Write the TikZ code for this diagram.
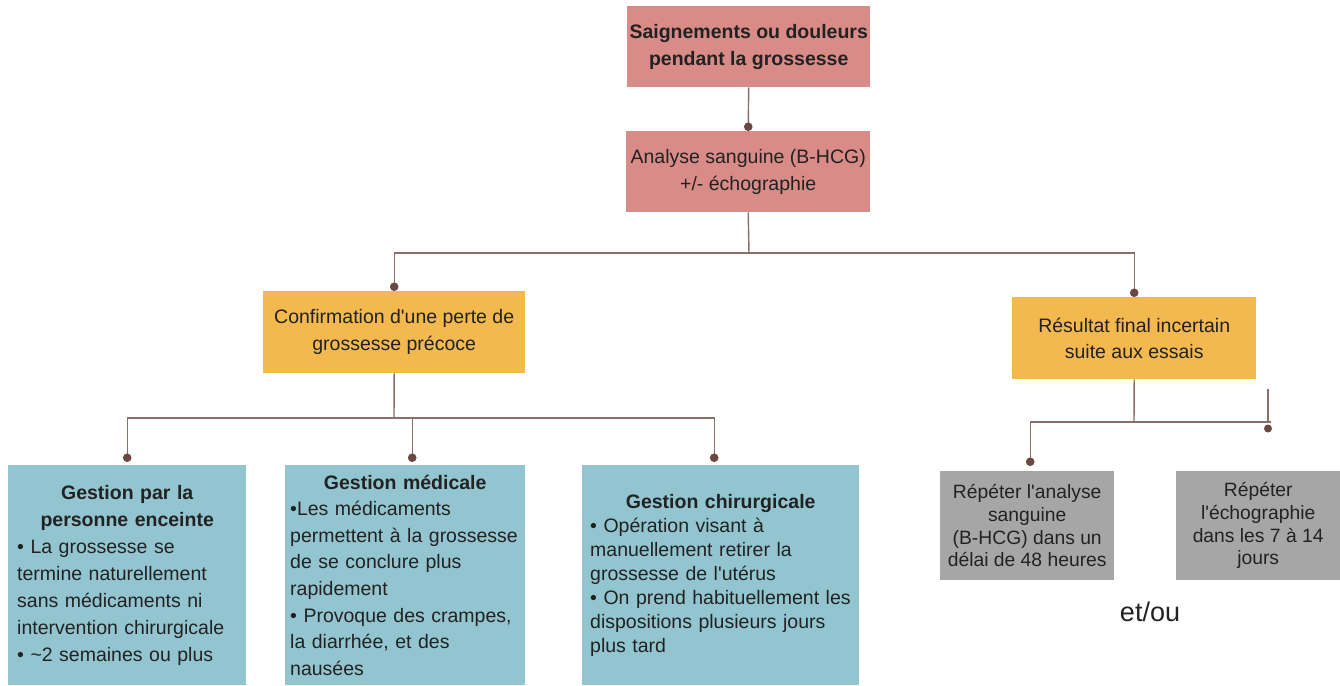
\documentclass[tikz,border=0pt]{standalone}
\usepackage{fontspec}
\setmainfont{Liberation Sans}
\usetikzlibrary{arrows.meta}
\definecolor{pinkbox}{HTML}{D98B87}
\definecolor{orangebox}{HTML}{F3B94E}
\definecolor{bluebox}{HTML}{93C5D0}
\definecolor{graybox}{HTML}{A6A6A6}
\definecolor{linecol}{HTML}{8A6E69}
\definecolor{dotcol}{HTML}{6B4843}
\definecolor{txt}{HTML}{222222}
\newcommand{\apos}{\textquotesingle}
\begin{document}
\begin{tikzpicture}[x=1pt,y=-1pt,
  box/.style={anchor=north west, inner sep=0pt, text=txt, align=center,
    font=\fontsize{19.5}{27}\selectfont},
  pinkb/.style={box, fill=pinkbox},
  orangeb/.style={box, fill=orangebox},
  blueb/.style={box, fill=bluebox, align=left, minimum height=220},
  grayb/.style={box, fill=graybox, font=\fontsize{19.3}{22.7}\selectfont},
  conn/.style={draw=linecol, line width=1.4pt},
  dotend/.style={conn, -{Circle[length=8.5pt,width=8.5pt,color=dotcol]}},
]
\fill[white] (0,0) rectangle (1340,685);
\useasboundingbox (0,0) rectangle (1340,685);

\node[pinkb, minimum width=243, minimum height=81] (top) at (627,6)
  {\bfseries Saignements ou douleurs\\\bfseries pendant la grossesse};
\node[pinkb, minimum width=244, minimum height=81] (ana) at (626,131)
  {Analyse sanguine (B-HCG)\\+/- échographie};
\node[orangeb, minimum width=262, minimum height=82] (conf) at (263,291)
  {Confirmation d\apos une perte de\\grossesse précoce};
\node[orangeb, minimum width=244, minimum height=82, font=\fontsize{19.5}{26}\selectfont] (res) at (1012,297)
  {Résultat final incertain\\suite aux essais};

\node[blueb, minimum width=238, text width=220, inner xsep=9] (g1) at (8,465)
  {{\centering\bfseries Gestion par la\\personne enceinte\par}%
   • La grossesse se\\termine naturellement\\sans médicaments ni\\intervention chirurgicale\\• \textasciitilde 2 semaines ou plus};
\node[blueb, minimum width=240, text width=230, inner xsep=5, font=\fontsize{19.5}{26.6}\selectfont] (g2) at (285,465)
  {{\centering\bfseries Gestion médicale\par}%
   •Les médicaments\\permettent à la grossesse\\de se conclure plus\\rapidement\\• Provoque des crampes,\\la diarrhée, et des\\nausées};
\node[blueb, minimum width=277, text width=261, inner xsep=8, font=\fontsize{19.5}{24}\selectfont] (g3) at (582,465)
  {{\centering\bfseries Gestion chirurgicale\par}%
   • Opération visant à\\manuellement retirer la\\grossesse de l\apos utérus\\• On prend habituellement les\\dispositions plusieurs jours\\plus tard};

\node[grayb, minimum width=174, minimum height=109] (h1) at (940,471)
  {Répéter l\apos analyse\\sanguine\\(B-HCG) dans un\\délai de 48 heures};
\node[grayb, minimum width=164, minimum height=109] (h2) at (1176,471)
  {Répéter\\l\apos échographie\\dans les 7 à 14\\jours};

\node[text=txt, font=\fontsize{27}{30}\selectfont, inner sep=0pt] (etou) at (1150,612) {et/ou};

% connectors
\draw[dotend] (top.south) -- (ana.north);
\coordinate (j1) at (749,253);
\draw[conn] (ana.south) -- (j1);
\draw[dotend] (j1) -| (conf.north);
\draw[dotend] (j1) -| (res.north);

\coordinate (j2) at (394,418);
\draw[conn] (conf.south) -- (j2);
\draw[dotend, shorten >=3pt] (j2) -| (g1.north);
\draw[dotend, shorten >=3pt] (j2) -| ([xshift=7pt]g2.north);
\draw[dotend, shorten >=3pt] (j2) -| ([xshift=-6.5pt]g3.north);

\coordinate (j3) at (1134,422);
\draw[conn] (res.south) -- (j3);
\draw[dotend, shorten >=5pt] (j3) -| ([xshift=3pt]h1.north);
\coordinate (j4) at (1271,422);
\draw[conn] (j3) -- (j4);
\coordinate (k) at (1268,389);
\draw[conn] (k) -- (k |- j4);
\fill[dotcol] (1268,428.5) circle (4pt);
\end{tikzpicture}
\end{document}
